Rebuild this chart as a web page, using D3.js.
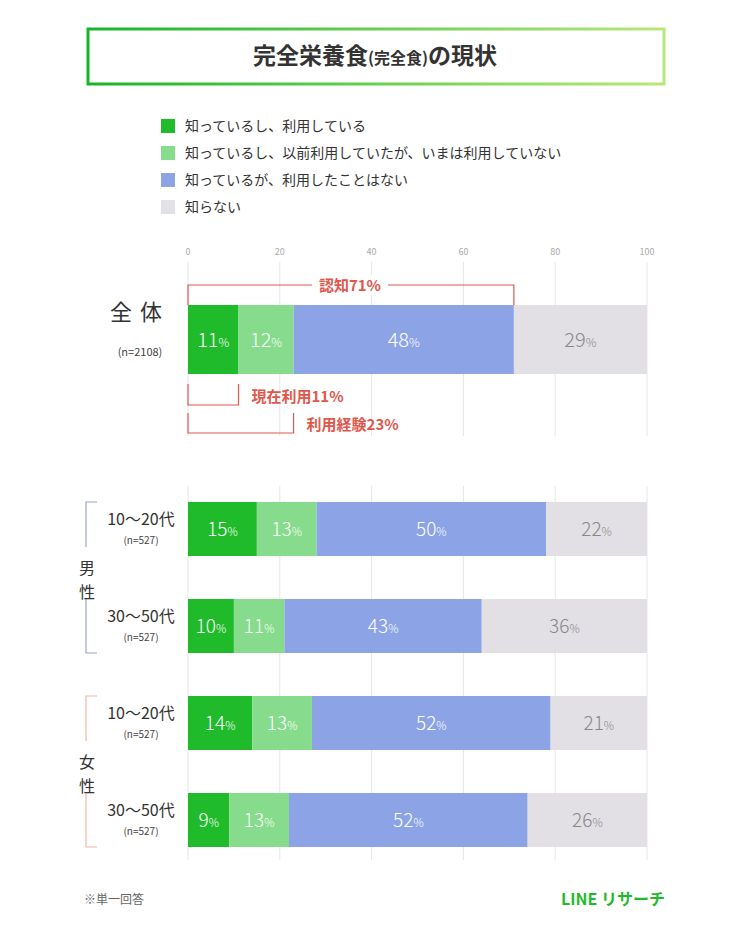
<!DOCTYPE html>
<html><head><meta charset="utf-8">
<script src="https://cdn.jsdelivr.net/npm/d3@7"></script>
<style>body{margin:0;background:#fff}svg{font-family:"Noto Sans CJK JP","Noto Sans",sans-serif}</style>
</head><body><svg id="c" width="750" height="936"></svg>
<script>
const seriesNames=["知っているし、利用している","知っているし、以前利用していたが、いまは利用していない","知っているが、利用したことはない","知らない"];
const colors=["#1fbb2b","#86dc8c","#8ca4e6","#e2e0e4"];
const totalValues=[11,12,48,29];
const groupLabels=["10〜20代","30〜50代","10〜20代","30〜50代"];
const groupValues=[[15,13,50,22],[10,11,43,36],[14,13,52,21],[9,13,52,26]];
const ticks=[0,20,40,60,80,100];
const annotations=[{text:"認知71%",v:71},{text:"現在利用11%",v:11},{text:"利用経験23%",v:23}];

const svg=d3.select("#c");
const x=d3.scaleLinear().domain([0,100]).range([188,647]);
const red="#e0584c";
const g0=svg.append("defs").append("linearGradient").attr("id","tg");
g0.append("stop").attr("offset","0").attr("stop-color","#17b52a");
g0.append("stop").attr("offset","1").attr("stop-color","#b9e87a");
svg.append("rect").attr("x",88).attr("y",29).attr("width",576).attr("height",55).attr("fill","none").attr("stroke","url(#tg)").attr("stroke-width",3);
const t=svg.append("text").attr("x",375).attr("y",64).attr("text-anchor","middle").attr("font-weight","bold").attr("fill","#333");
t.append("tspan").attr("font-size",23).text("完全栄養食");
t.append("tspan").attr("font-size",16).text("(完全食)");
t.append("tspan").attr("font-size",23).text("の現状");
seriesNames.forEach((s,i)=>{
  svg.append("rect").attr("x",161).attr("y",119+i*27).attr("width",14).attr("height",14).attr("fill",i==3?"#e2e2e6":colors[i]);
  svg.append("text").attr("x",185).attr("y",131+i*27).attr("font-size",14).attr("fill","#333").text(s);
});
function grid(y0,y1){ticks.forEach(v=>svg.append("line").attr("x1",x(v)).attr("x2",x(v)).attr("y1",y0).attr("y2",y1).attr("stroke","#e6e6ea").attr("stroke-width",1));}
grid(262,436);grid(486,860);
ticks.forEach(v=>svg.append("text").attr("x",x(v)).attr("y",255).attr("text-anchor","middle").attr("font-size",9).attr("fill","#aaa").text(v));
function bar(vals,y,h,fs){
  let c=0;
  vals.forEach((v,i)=>{
    svg.append("rect").attr("x",x(c)).attr("y",y).attr("width",x(c+v)-x(c)).attr("height",h).attr("fill",colors[i]);
    const tx=svg.append("text").attr("x",x(c+v/2)).attr("y",y+h/2+7).attr("text-anchor","middle").attr("fill",i==3?"#888":"#fff").attr("font-size",fs).attr("font-weight",300);
    tx.append("tspan").text(v);tx.append("tspan").attr("font-size",fs*0.6).text("%");
    c+=v;
  });
}
bar(totalValues,305,69,20);
svg.append("text").attr("x",140).attr("y",320).attr("text-anchor","middle").attr("font-size",22).attr("fill","#333").attr("letter-spacing",8).text("全体");
svg.append("text").attr("x",140).attr("y",356).attr("text-anchor","middle").attr("font-size",11).attr("fill","#444").text("(n=2108)");
const a0=annotations[0];
svg.append("path").attr("d",`M${x(0)},305V285H${x(a0.v)}V305`).attr("fill","none").attr("stroke",red).attr("stroke-width",1.2);
svg.append("rect").attr("x",312).attr("y",275).attr("width",76).attr("height",20).attr("fill","#fff");
svg.append("text").attr("x",350).attr("y",291).attr("text-anchor","middle").attr("font-size",15).attr("font-weight","bold").attr("fill",red).text(a0.text);
[[annotations[1],384,405],[annotations[2],413,433]].forEach(([a,yt,yb])=>{
  svg.append("path").attr("d",`M${x(0)},${yt}V${yb}H${x(a.v)}V${yt}`).attr("fill","none").attr("stroke",red).attr("stroke-width",1.2);
  svg.append("text").attr("x",x(a.v)+13).attr("y",yb-3).attr("font-size",15).attr("font-weight","bold").attr("fill",red).text(a.text);
});
const ys=[502,599,696,793];
groupValues.forEach((vals,i)=>{
  bar(vals,ys[i],54,19);
  svg.append("text").attr("x",141).attr("y",ys[i]+23).attr("text-anchor","middle").attr("font-size",16).attr("fill","#333").text(groupLabels[i]);
  svg.append("text").attr("x",141).attr("y",ys[i]+42).attr("text-anchor","middle").attr("font-size",10).attr("fill","#444").text("(n=527)");
});
[["男",502,"#9aa6cc"],["女",696,"#f0b5a8"]].forEach(([s,y,col])=>{
  svg.append("path").attr("d",`M97,${y}H86V${y+45}M86,${y+97}V${y+151}H97`).attr("fill","none").attr("stroke",col).attr("stroke-width",1.2);
  svg.append("text").attr("x",87).attr("y",y+72).attr("text-anchor","middle").attr("font-size",16).attr("fill","#333").text(s);
  svg.append("text").attr("x",87).attr("y",y+96).attr("text-anchor","middle").attr("font-size",16).attr("fill","#333").text("性");
});
svg.append("text").attr("x",84).attr("y",904).attr("font-size",12).attr("fill","#666").text("※単一回答");
svg.append("text").attr("x",665).attr("y",905).attr("text-anchor","end").attr("font-size",16).attr("font-weight","bold").attr("fill","#1fbb2b").text("LINE リサーチ");
</script></body></html>
